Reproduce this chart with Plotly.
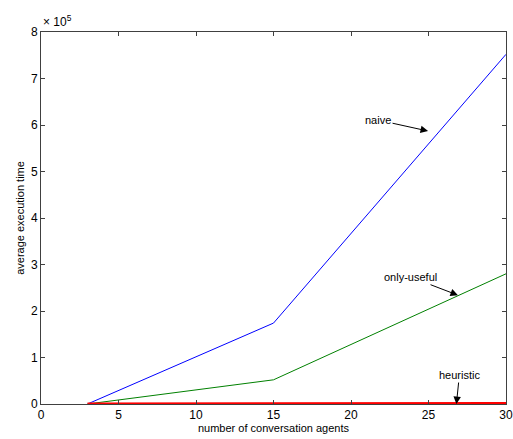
import plotly.graph_objects as go

agents = [3, 15, 30]
naive = [0, 1.74e5, 7.52e5]
only_useful = [0, 0.52e5, 2.80e5]
heuristic = [0, 300, 1200]

x_ticks = [0, 5, 10, 15, 20, 25, 30]
y_ticks = [0, 1e5, 2e5, 3e5, 4e5, 5e5, 6e5, 7e5, 8e5]
y_ticktext = ["0", "1", "2", "3", "4", "5", "6", "7", "8"]

FONT = "Liberation Sans, Arial, sans-serif"

fig = go.Figure()
fig.add_trace(go.Scatter(x=agents, y=naive, mode="lines", line=dict(color="#0000ff", width=1), name="naive"))
fig.add_trace(go.Scatter(x=agents, y=only_useful, mode="lines", line=dict(color="#008000", width=1), name="only-useful"))
fig.add_trace(go.Scatter(x=agents, y=heuristic, mode="lines", line=dict(color="#ff0000", width=3), name="heuristic"))

axis_common = dict(showgrid=False, zeroline=False, showline=True, linecolor="#404040", linewidth=1,
                   mirror="ticks", ticks="inside", ticklen=4, tickcolor="#404040", automargin=False,
                   tickfont=dict(family=FONT, size=12, color="black"))

fig.update_layout(
    width=513, height=439,
    margin=dict(l=41, r=7, t=32, b=35),
    paper_bgcolor="white", plot_bgcolor="white",
    showlegend=False,
    font=dict(family=FONT, size=11, color="black"),
    xaxis=dict(range=[0, 30], tickvals=x_ticks,
               title=dict(text="number of conversation agents", font=dict(size=11, color="black"), standoff=0),
               **axis_common),
    yaxis=dict(range=[0, 8e5], tickvals=y_ticks, ticktext=y_ticktext,
               title=dict(text="average execution time", font=dict(size=11, color="black"), standoff=4),
               **axis_common),
)

fig.add_annotation(x=0, y=1, xref="paper", yref="paper", text="× 10<sup>5</sup>", showarrow=False,
                   xanchor="left", yanchor="bottom", yshift=1, font=dict(size=12))

fig.add_annotation(x=24.97, y=5.87e5, text="naive", showarrow=True, arrowhead=2, arrowsize=1.5, arrowwidth=1,
                   ax=-50, ay=-11, arrowcolor="black", font=dict(size=11))
fig.add_annotation(x=26.9, y=2.34e5, text="only-useful", showarrow=True, arrowhead=2, arrowsize=1.5, arrowwidth=1,
                   ax=-47, ay=-18, arrowcolor="black", font=dict(size=11))
fig.add_annotation(x=26.8, y=0, text="heuristic", showarrow=True, arrowhead=2, arrowsize=1.5, arrowwidth=1,
                   ax=3, ay=-29, arrowcolor="black", font=dict(size=11))

fig.write_html("out.html", config={"displayModeBar": False},
               post_script="document.body.style.margin='0';document.body.style.overflow='hidden';")
